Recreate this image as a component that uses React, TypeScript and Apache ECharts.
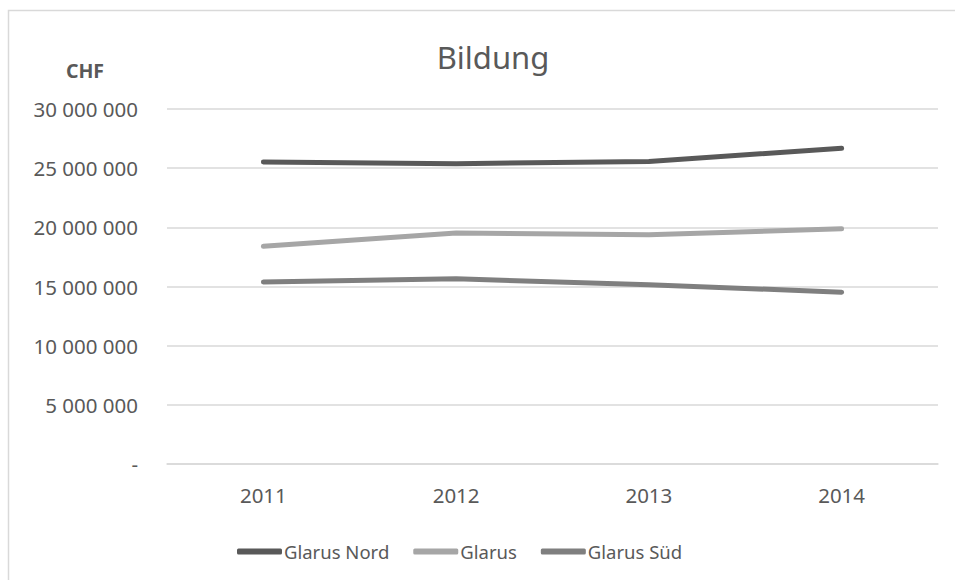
import React, { useEffect, useRef } from "react";
import * as echarts from "echarts";

const categories = ["2011", "2012", "2013", "2014"];
const glarusNord = [25520000, 25380000, 25570000, 26680000];
const glarus = [18400000, 19530000, 19370000, 19870000];
const glarusSued = [15380000, 15650000, 15150000, 14520000];
const seriesNames = ["Glarus Nord", "Glarus", "Glarus Süd"];
const seriesColors = ["#595959", "#a6a6a6", "#7f7f7f"];

const fmt = (v: number) => {
  if (v === 0) return "-";
  return String(Math.round(v)).replace(/\B(?=(\d{3})+(?!\d))/g, " ");
};

export default function App() {
  const ref = useRef<HTMLDivElement>(null);
  useEffect(() => {
    if (!ref.current) return;
    const chart = echarts.init(ref.current, null, { renderer: "svg" });
    const font = "'Noto Sans', sans-serif";
    const data = [glarusNord, glarus, glarusSued];
    chart.setOption({
      animation: false,
      backgroundColor: "#ffffff",
      title: {
        text: "Bildung",
        left: 488,
        top: 36,
        textAlign: "center",
        textStyle: { fontFamily: font, fontSize: 31, fontWeight: "normal", color: "#595959" },
      },
      graphic: [
        {
          type: "rect",
          shape: { x: 8.5, y: 10.5, width: 960, height: 600 },
          style: { fill: "none", stroke: "#d9d9d9", lineWidth: 1.5 },
          silent: true,
        },
        {
          type: "text",
          x: 85,
          y: 70,
          style: {
            text: "CHF",
            fontFamily: font,
            fontSize: 19.5,
            fontWeight: "bold",
            fill: "#595959",
            align: "center",
            verticalAlign: "middle",
          },
        },
      ],
      legend: {
        left: 232,
        top: 537,
        itemWidth: 45,
        itemHeight: 6,
        itemGap: 24,
        icon: "roundRect",
        data: seriesNames,
        textStyle: { fontFamily: font, fontSize: 18.5, color: "#595959", padding: [0, 0, 0, -3] },
      },
      grid: { left: 167, right: 17, top: 109, bottom: 116, containLabel: false },
      xAxis: {
        type: "category",
        data: categories,
        boundaryGap: true,
        axisLine: { show: true, lineStyle: { color: "#d9d9d9", width: 1.5 } },
        axisTick: { show: false },
        axisLabel: { fontFamily: font, fontSize: 20.5, color: "#595959", margin: 20 },
      },
      yAxis: {
        type: "value",
        min: 0,
        max: 30000000,
        interval: 5000000,
        axisLine: { show: false },
        axisTick: { show: false },
        splitLine: { lineStyle: { color: "#d9d9d9", width: 1.5 } },
        axisLabel: {
          fontFamily: font,
          fontSize: 20.5,
          color: "#595959",
          margin: 29,
          formatter: (v: number) => fmt(v),
        },
      },
      series: seriesNames.map((name, i) => ({
        name,
        type: "line",
        data: data[i],
        symbol: "none",
        color: seriesColors[i],
        lineStyle: { width: 5, color: seriesColors[i], cap: "round", join: "round" },
      })),
    });
    return () => chart.dispose();
  }, []);
  return (
    <div
      ref={ref}
      style={{ position: "fixed", left: 0, top: 0, width: 955, height: 580 }}
    />
  );
}
